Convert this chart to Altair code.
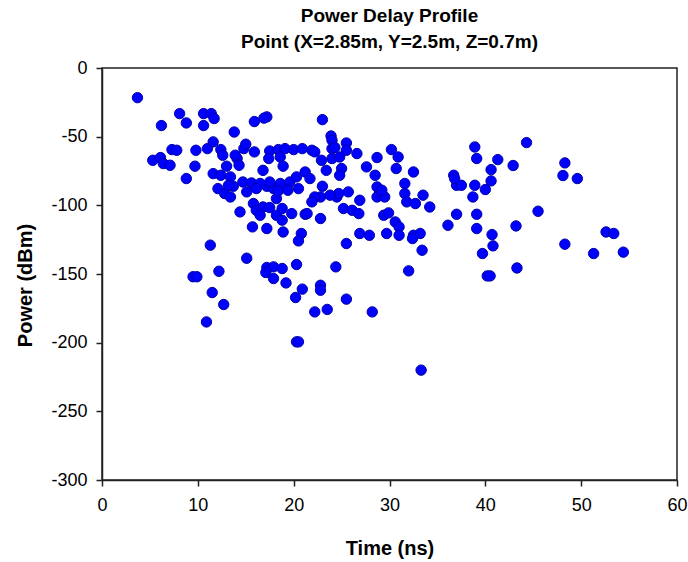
import altair as alt
import pandas as pd

# Time delay (ns) and received power (dBm) of each ray
time_ns = [
    3.7, 6.2, 8.1, 8.8, 10.6, 11.4, 11.7, 10.6, 13.8, 15.9, 17.2, 16.9,
    7.3, 7.8, 5.3, 6.1, 6.4, 7.1, 8.8, 9.7, 9.8, 11.0, 11.6, 12.4, 12.6, 11.6,
    12.4, 13.0, 12.1, 12.8, 13.4, 13.7, 13.4, 14.1, 13.9, 14.3, 14.8, 15.0,
    15.9, 14.7, 15.6, 15.1, 16.8, 17.5, 18.4, 19.1, 20.0, 17.4, 18.6, 18.9,
    15.8, 16.1, 16.8, 14.4, 17.2, 17.9, 18.2, 18.8, 18.2, 18.8, 19.8, 15.7,
    17.2, 18.9,
    16.5, 17.5, 18.6, 19.6, 20.3, 21.2, 21.7, 16.1, 18.4, 19.4, 20.5, 22.8,
    24.5, 16.5, 17.5, 21.2, 13.2,
    23.0, 23.9, 24.0, 25.5, 24.0, 24.3, 25.5, 26.6, 24.0, 24.8, 20.9, 21.9,
    22.2, 22.9, 23.4, 25.0, 24.8, 28.7, 27.6, 28.5, 30.2, 30.9, 30.7, 32.5,
    31.6, 31.6, 31.8, 32.7, 33.5, 34.2, 28.7, 29.0, 28.7, 29.5, 26.9, 25.7,
    24.7, 23.8, 23.0, 22.2, 21.9, 25.2, 26.1, 26.8, 22.8, 21.4, 29.4, 29.9,
    30.6, 31.0, 26.9, 27.9, 29.7, 31.0, 32.5, 33.2, 20.8, 36.1, 37.0, 36.7,
    37.0, 37.5, 38.9, 39.1, 38.9, 38.7, 39.1, 39.1, 29.2, 32.4, 33.4, 36.8,
    44.3, 41.3, 40.6, 42.9, 40.6, 40.0, 40.7, 43.2, 45.5, 48.3, 48.1, 49.6,
    52.6, 53.4, 40.8, 39.7, 43.3, 40.2, 40.5, 48.3, 51.3, 54.4, 33.3, 32.0,
    20.5, 25.5, 11.3, 15.1, 12.2, 9.5, 9.9, 11.5, 12.7, 10.9, 17.2, 17.9,
    18.8, 17.1, 17.9, 19.2, 20.3, 24.4, 20.9, 22.8, 22.8, 20.2, 25.5, 22.2,
    23.5, 28.2, 20.3, 20.5,
]
power_dbm = [
    -21.6, -41.9, -33.2, -40.0, -33.2, -33.2, -36.8, -41.9, -46.6, -39.0, -35.6, -36.5,
    -59.4, -59.9, -67.2, -65.2, -69.6, -70.8, -80.5, -71.5, -59.9, -58.7, -53.8, -59.4, -63.5, -76.9,
    -78.1, -71.5, -87.8, -91.4, -93.9, -86.1, -79.3, -65.9, -63.5, -70.8, -58.7, -55.5,
    -61.1, -83.0, -83.7, -90.2, -74.5, -60.4, -59.4, -58.7, -59.4, -65.9, -64.8, -71.5,
    -98.7, -103.6, -101.2, -104.8, -86.1, -87.8, -95.1, -102.3, -107.2, -110.8, -106.0, -115.7,
    -116.9, -119.4,
    -84.1, -83.0, -84.1, -83.0, -79.3, -75.7, -80.5, -87.8, -89.5, -89.0, -87.8, -93.9,
    -93.9, -107.2, -101.6, -106.5, -85.4,
    -37.6, -49.5, -52.6, -54.6, -58.7, -57.9, -59.9, -62.3, -65.9, -64.8, -58.7, -59.9,
    -61.1, -67.2, -74.5, -73.2, -78.1, -65.2, -72.0, -78.1, -59.4, -64.8, -73.2, -75.7,
    -84.1, -91.4, -97.5, -98.7, -92.6, -101.2, -86.6, -91.4, -93.9, -93.9, -96.3, -90.2,
    -91.4, -92.6, -86.1, -93.9, -97.5, -102.3, -103.6, -106.0, -109.6, -106.0, -107.2, -105.5,
    -112.1, -115.7, -120.5, -121.8, -120.5, -121.8, -121.8, -120.5, -120.5, -114.5, -106.5, -78.1,
    -85.4, -85.4, -57.5, -65.9, -85.4, -93.9, -106.5, -116.9, -89.0, -124.2, -132.7, -80.5,
    -54.3, -66.7, -74.0, -71.0, -82.2, -88.5, -121.3, -115.0, -104.3, -69.1, -78.3, -80.5,
    -119.4, -120.5, -129.5, -135.1, -145.6, -151.4, -151.4, -128.3, -135.1, -134.1, -220.0, -147.7,
    -125.9, -127.8, -129.0, -138.5, -148.0, -152.0, -152.0, -163.5, -172.2, -184.9, -145.3, -144.8,
    -146.0, -148.9, -153.3, -156.5, -143.1, -144.8, -161.0, -158.2, -161.8, -167.1, -168.3, -177.6,
    -175.8, -177.6, -199.4, -199.4,
]

x_ticks = [0, 10, 20, 30, 40, 50, 60]
y_ticks = [0, -50, -100, -150, -200, -250, -300]

df = pd.DataFrame({"t": time_ns, "p": power_dbm})

FONT = "Liberation Sans"

chart = (
    alt.Chart(df)
    .mark_circle(size=108, color="#0000FF", opacity=1, stroke="#0000A8", strokeWidth=1)
    .encode(
        x=alt.X(
            "t:Q",
            scale=alt.Scale(domain=[0, 60], nice=False, zero=False),
            axis=alt.Axis(
                title="Time (ns)",
                values=x_ticks,
                grid=False,
                tickSize=6,
                labelPadding=10,
                labelFlush=False,
                labelExpr="toString(datum.value)",
                titleY=68,
                titleBaseline="middle",
            ),
        ),
        y=alt.Y(
            "p:Q",
            scale=alt.Scale(domain=[-300, 0], nice=False, zero=False),
            axis=alt.Axis(
                title="Power (dBm)",
                values=y_ticks,
                grid=False,
                tickSize=6,
                labelPadding=9,
                labelFlush=False,
                labelExpr="toString(datum.value)",
                titleX=-77,
                titleY=217,
                titleBaseline="middle",
                titleAngle=-90,
            ),
        ),
    )
    .properties(
        width=575,
        height=412,
        autosize=alt.AutoSizeParams(type="none"),
        padding={"left": 102, "top": 68, "right": 11, "bottom": 82},
        title=alt.TitleParams(
            text=["Power Delay Profile", "Point (X=2.85m, Y=2.5m, Z=0.7m)"],
            font=FONT,
            fontSize=19,
            fontWeight="bold",
            color="#000000",
            anchor="middle",
            lineHeight=26,
            offset=7,
        ),
    )
    .configure_view(stroke="#222222", strokeWidth=1.5)
    .configure_axis(
        domainColor="#222222",
        domainWidth=1.5,
        tickColor="#222222",
        tickWidth=1.5,
        labelFont=FONT,
        labelFontSize=18,
        labelColor="#000000",
        titleFont=FONT,
        titleFontSize=20,
        titleFontWeight="bold",
        titleColor="#000000",
    )
)

chart.save("out.html", embed_options={"renderer": "svg", "actions": False})
